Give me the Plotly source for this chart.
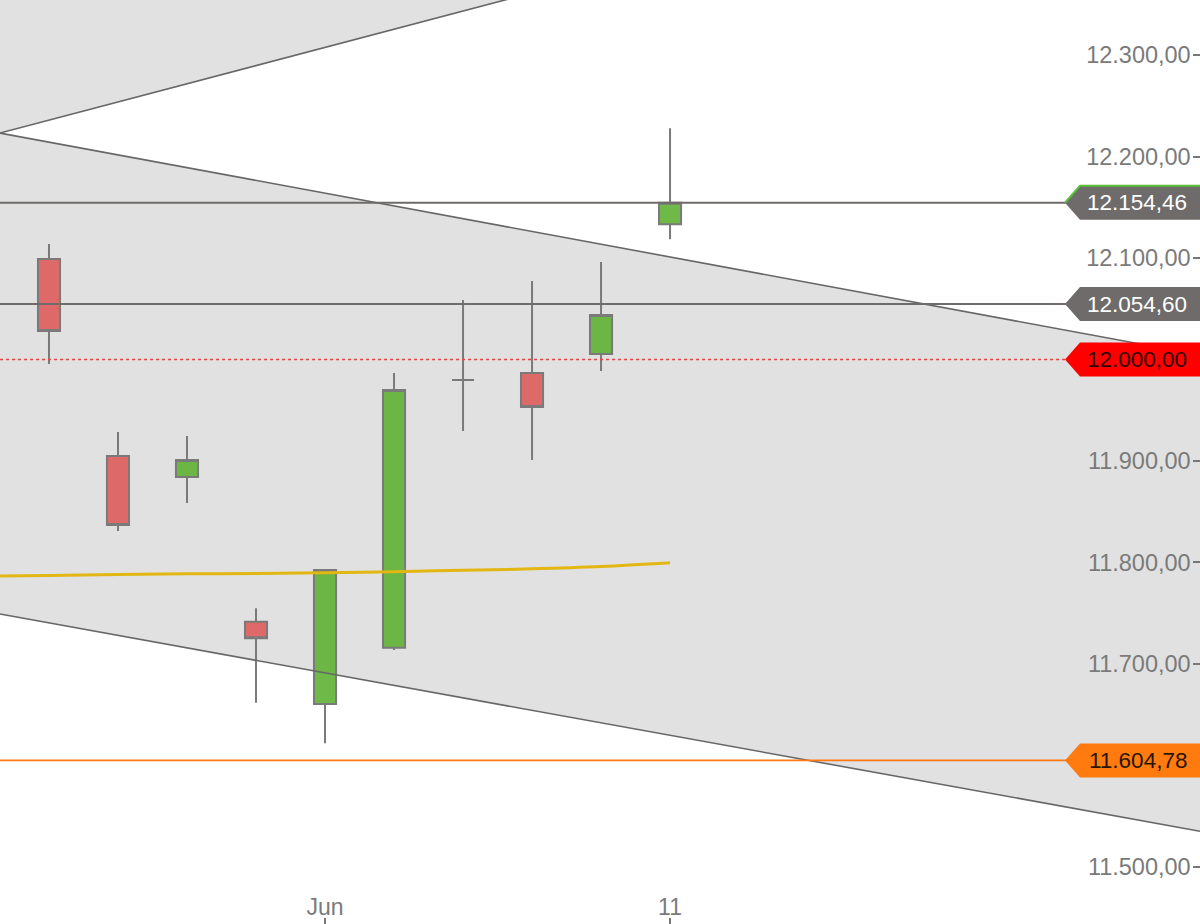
import plotly.graph_objects as go

# ---------------- data ----------------
dates = ["2019-05-28", "2019-05-29", "2019-05-30", "2019-05-31", "2019-06-03",
         "2019-06-04", "2019-06-05", "2019-06-06", "2019-06-07", "2019-06-11"]
open_ = [12099.0, 11904.8, 11884.1, 11741.5, 11660.4, 11715.9, 11979.7, 11986.6, 12005.4, 12133.2]
high = [12113.8, 11928.5, 11924.5, 11754.7, 11792.5, 11986.6, 12058.6, 12077.3, 12096.1, 12227.8]
low = [11995.5, 11830.9, 11858.5, 11661.7, 11621.6, 11713.6, 11929.5, 11900.9, 11988.6, 12118.4]
close = [12028.0, 11836.8, 11900.9, 11725.1, 11792.5, 11969.9, 11979.7, 11953.1, 12043.8, 12154.46]

# moving average (first value belongs to the trading day before the first candle)
ma_dates = ["2019-05-27"] + dates
ma_values = [11786.3, 11787.0, 11788.0, 11788.7, 11789.0, 11789.7,
             11790.7, 11792.2, 11793.6, 11795.9, 11799.7]

# trend channel lines: value at first candle, value at last candle
upper_line_a = [12214.2, 12101.0]
upper_line_b = [12235.9, 12397.2]
lower_line = [11740.3, 11629.5]

# horizontal price levels
level_values = [12154.46, 12054.60, 12000.00, 11604.78]

# axis ticks
y_tick_values = [11500, 11700, 11800, 11900, 12100, 12200, 12300]  # 11.600 / 12.000 sit under price tags
x_tick_dates = ["2019-06-03", "2019-06-11"]
x_tick_text = ["Jun", "11"]

# ---------------- helpers ----------------
def de_fmt(v):
    s = f"{v:,.2f}"
    return s.replace(",", "X").replace(".", ",").replace("X", ".")

idx = list(range(len(dates)))
ma_idx = [i - 1 for i in range(len(ma_dates))]
X_MIN, X_MAX = -0.71, 16.68
Y_MIN, Y_MAX = 11443.5, 12354.3
last = len(dates) - 1

def extend(pair):
    slope = (pair[1] - pair[0]) / last
    return [pair[0] + slope * X_MIN, pair[0] + slope * X_MAX]

FILL = "#e1e1e1"
LINE = "#676767"

fig = go.Figure()

a_ext = extend(upper_line_a)
b_ext = extend(upper_line_b)
c_ext = extend(lower_line)
top = Y_MAX + 400

shapes = []
# shaded channel regions (below the traces)
shapes.append(dict(type="path", xref="x", yref="y", layer="below", line=dict(width=0),
                   fillcolor=FILL,
                   path=f"M {X_MIN},{b_ext[0]} L {X_MAX},{b_ext[1]} L {X_MAX},{top} L {X_MIN},{top} Z"))
shapes.append(dict(type="path", xref="x", yref="y", layer="below", line=dict(width=0),
                   fillcolor=FILL,
                   path=f"M {X_MIN},{a_ext[0]} L {X_MAX},{a_ext[1]} L {X_MAX},{c_ext[1]} L {X_MIN},{c_ext[0]} Z"))

# candles
fig.add_trace(go.Candlestick(
    x=idx, open=open_, high=high, low=low, close=close,
    increasing=dict(fillcolor="rgba(90,175,45,0.88)", line=dict(color="#7a7a7a", width=2)),
    decreasing=dict(fillcolor="rgba(222,92,92,0.9)", line=dict(color="#7a7a7a", width=2)),
    whiskerwidth=0, showlegend=False, hoverinfo="skip"))

# channel lines
for ext in (b_ext, a_ext, c_ext):
    fig.add_trace(go.Scatter(x=[X_MIN, X_MAX], y=ext, mode="lines",
                             line=dict(color=LINE, width=1.6),
                             hoverinfo="skip", showlegend=False))

# moving average
fig.add_trace(go.Scatter(x=ma_idx, y=ma_values, mode="lines",
                         line=dict(color="#e2b714", width=3, shape="spline"),
                         hoverinfo="skip", showlegend=False))

# horizontal levels
level_styles = [
    dict(color="#6e6b6a", width=2, dash="solid"),
    dict(color="#6e6b6a", width=2, dash="solid"),
    dict(color="#e64646", width=1.6, dash="dot"),
    dict(color="#ff7a14", width=1.8, dash="solid"),
]
tag_fill = ["#6e6b6a", "#6e6b6a", "#ff0000", "#ff7b0f"]
tag_text_color = ["#ffffff", "#ffffff", "#330000", "#2a1500"]

annotations = []
tag_path = "M -135,0 L -120,17 L 0,17 L 0,-17 L -120,-17 Z"
for v, st, fc, tc in zip(level_values, level_styles, tag_fill, tag_text_color):
    shapes.append(dict(type="line", xref="paper", yref="y", x0=0, x1=0.89, y0=v, y1=v,
                       line=st, layer="above"))
    shapes.append(dict(type="path", xref="paper", yref="y", xsizemode="pixel",
                       ysizemode="pixel", xanchor=1, yanchor=v, path=tag_path,
                       fillcolor=fc, line=dict(width=0), layer="above"))
    annotations.append(dict(x=1, xref="paper", y=v, yref="y", xanchor="right",
                            yanchor="middle", xshift=-11, showarrow=False,
                            text=de_fmt(v),
                            font=dict(size=22.5, color=tc,
                                      family="Liberation Sans, Arial, sans-serif")))
# green up-marker border on the last price tag
shapes.append(dict(type="path", xref="paper", yref="y", xsizemode="pixel",
                   ysizemode="pixel", xanchor=1, yanchor=level_values[0],
                   path="M -135,0 L -120,17 L 0,17", line=dict(color="#58c03a", width=2),
                   layer="above"))

fig.update_layout(
    width=1200, height=924,
    margin=dict(l=0, r=0, t=0, b=0),
    paper_bgcolor="white", plot_bgcolor="white",
    separators=",.",
    boxgap=0.68, boxgroupgap=0,
    shapes=shapes, annotations=annotations,
    showlegend=False,
    font=dict(family="Liberation Sans, Arial, sans-serif"),
    xaxis=dict(range=[X_MIN, X_MAX], rangeslider=dict(visible=False),
               tickvals=[dates.index(d) for d in x_tick_dates], ticktext=x_tick_text,
               ticks="inside", ticklen=6, tickcolor="#777", tickwidth=1.5,
               ticklabelposition="inside",
               tickfont=dict(size=23, color="#7a7a7a"),
               showgrid=False, zeroline=False, showline=False),
    yaxis=dict(range=[Y_MIN, Y_MAX], side="right", tickvals=y_tick_values,
               tickformat=",.2f", ticks="inside", ticklen=7, tickcolor="#777",
               tickwidth=1.5, ticklabelposition="inside", ticklabelstandoff=4,
               tickfont=dict(size=23.5, color="#7a7a7a"),
               showgrid=False, zeroline=False, showline=False),
)

fig.write_html("out.html", config={"displayModeBar": False},
               post_script="document.body.style.margin='0';document.body.style.overflow='hidden';")
